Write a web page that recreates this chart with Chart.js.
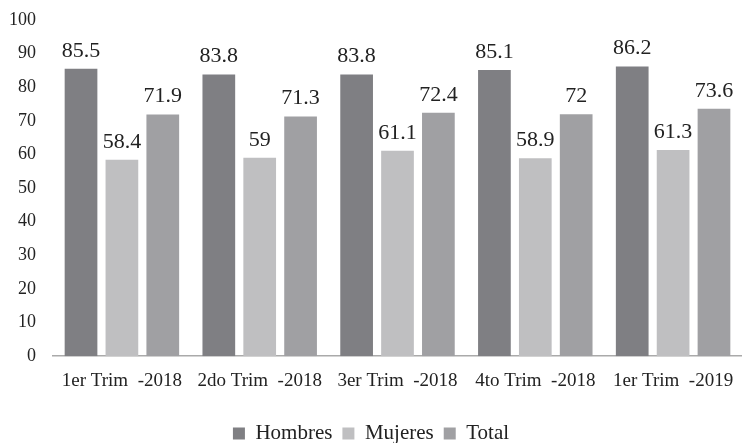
<!DOCTYPE html>
<html>
<head>
    <title>Tasa de participación</title>
    <script src="https://cdn.jsdelivr.net/npm/chart.js"></script>
    <style>
        body { margin: 0; background: #fff; }
        #chart-container { width: 742px; height: 443px; }
    </style>
</head>
<body>
    <div id="chart-container">
        <canvas id="chart"></canvas>
    </div>

    <script>
        const categories = ["1er Trim  -2018", "2do Trim  -2018", "3er Trim  -2018", "4to Trim  -2018", "1er Trim  -2019"];
        const hombres = [85.5, 83.8, 83.8, 85.1, 86.2];
        const mujeres = [58.4, 59, 61.1, 58.9, 61.3];
        const total = [71.9, 71.3, 72.4, 72, 73.6];

        // labels drawn above each bar
        const barLabels = {
            id: "barLabels",
            afterDatasetsDraw(chart) {
                const ctx = chart.ctx;
                ctx.save();
                ctx.font = "22px 'Liberation Serif'";
                ctx.fillStyle = "#222";
                ctx.textAlign = "center";
                ctx.textBaseline = "bottom";
                chart.data.datasets.forEach((ds, i) => {
                    const meta = chart.getDatasetMeta(i);
                    meta.data.forEach((bar, j) => {
                        ctx.fillText(String(ds.data[j]), bar.x, bar.y - 7);
                    });
                });
                ctx.restore();
            }
        };

        const ctx = document.getElementById("chart").getContext("2d");
        const chart = new Chart(ctx, {
            type: "bar",
            data: {
                labels: categories,
                datasets: [
                    { label: "Hombres", data: hombres, backgroundColor: "#7f7f83" },
                    { label: "Mujeres", data: mujeres, backgroundColor: "#bfbfc1" },
                    { label: "Total", data: total, backgroundColor: "#a0a0a3" }
                ]
            },
            options: {
                responsive: true,
                maintainAspectRatio: false,
                animation: false,
                layout: { padding: { top: 0, left: 0, right: 0, bottom: -11 } },
                datasets: { bar: { barPercentage: 0.8, categoryPercentage: 0.89 } },
                plugins: {
                    legend: {
                        position: "bottom",
                        labels: {
                            boxWidth: 12,
                            boxHeight: 12,
                            padding: 10,
                            color: "#222",
                            font: { family: "'Liberation Serif'", size: 21 }
                        }
                    },
                    tooltip: { enabled: false }
                },
                scales: {
                    x: {
                        grid: { display: false },
                        border: { display: true, color: "#aaaaaa", width: 1.5 },
                        ticks: {
                            color: "#222",
                            padding: 5,
                            maxRotation: 0,
                            minRotation: 0,
                            autoSkip: false,
                            font: { family: "'Liberation Serif'", size: 19 }
                        },
                        afterFit: (scale) => {
                            scale.paddingLeft = 0;
                            scale.paddingRight = 0;
                            scale.height += 16;
                        }
                    },
                    y: {
                        min: 0,
                        max: 100,
                        grid: { display: false },
                        border: { display: false },
                        ticks: {
                            stepSize: 10,
                            color: "#222",
                            padding: 9,
                            font: { family: "'Liberation Serif'", size: 18 }
                        },
                        afterFit: (scale) => { scale.paddingTop = 20; scale.paddingBottom = 0; }
                    }
                }
            },
            plugins: [barLabels]
        });
    </script>
</body>
</html>
